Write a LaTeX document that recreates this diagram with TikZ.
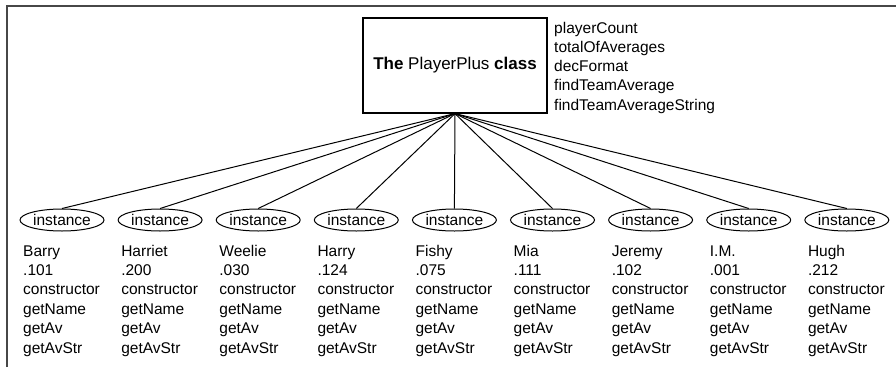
\documentclass[tikz,border=0pt]{standalone}
\usepackage{fontspec}
\setmainfont{Liberation Sans}
\usetikzlibrary{shapes.geometric}
\begin{document}
\begin{tikzpicture}[x=1pt,y=1pt,
  frameline/.style={line width=2pt, draw=black!72},
  classbox/.style={draw, line width=1.2pt, minimum width=184pt, minimum height=95pt, inner sep=0pt, font=\fontsize{17}{20}\selectfont},
  inst/.style={draw, ellipse, line width=1pt, minimum width=84pt, minimum height=22pt, inner sep=0pt, font=\fontsize{15.5}{18}\selectfont},
  member/.style={anchor=base west, inner sep=0pt, font=\fontsize{15.5}{18}\selectfont},
  link/.style={line width=1pt}]
\useasboundingbox (0,0) rectangle (896,-367);
\coordinate (fb) at (7,-367);
\coordinate (fc) at (7,-6);
\coordinate (fr) at (896,-6);
\draw[frameline] (fb) -- (fc) -- (fr);
\node[classbox] (cls) at (455,-65.5) {\textbf{The} PlayerPlus \textbf{class}};
\foreach \t [count=\i] in {playerCount,totalOfAverages,decFormat,findTeamAverage,findTeamAverageString}
  \node[member] (m\i) at (554,{-33-19.3*(\i-1)}) {\t};
\foreach \n/\v [count=\i] in {Barry/.101,Harriet/.200,Weelie/.030,Harry/.124,Fishy/.075,Mia/.111,Jeremy/.102,I.M./.001,Hugh/.212}
{
  \pgfmathsetmacro\cx{62+98.1*(\i-1)}
  \node[inst] (e\i) at (\cx,-220) {instance};
  \draw[link] (cls.south) -- (e\i.north);
  \node[member] (n\i) at ({\cx-39},-256) {\n};
  \node[member] (v\i) at ({\cx-39},-275.4) {\v};
  \node[member] (c\i) at ({\cx-39},-294.8) {constructor};
  \node[member] (g\i) at ({\cx-39},-314.2) {getName};
  \node[member] (a\i) at ({\cx-39},-333.6) {getAv};
  \node[member] (s\i) at ({\cx-39},-353) {getAvStr};
}
\end{tikzpicture}
\end{document}
